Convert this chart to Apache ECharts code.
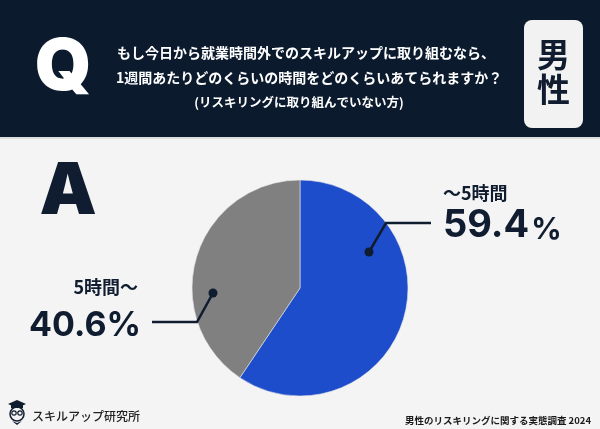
<!DOCTYPE html>
<html>
<head>
<meta charset="utf-8">
<script src="https://cdn.jsdelivr.net/npm/echarts@6/dist/echarts.min.js"></script>
<style>
  html, body { margin: 0; padding: 0; background: #f4f4f4; }
  #chart { width: 600px; height: 429px; }
</style>
</head>
<body>
<div id="chart"></div>
<script>
// 回答カテゴリと割合
var categories = ['〜5時間', '5時間〜'];
var values = [59.4, 40.6];
var colors = ['#1e4dcc', '#808080'];

var questionLines = [
    'もし今日から就業時間外でのスキルアップに取り組むなら、',
    '1週間あたりどのくらいの時間をどのくらいあてられますか？'
];
var questionNote = '(リスキリングに取り組んでいない方)';
var gender = ['男', '性'];
var sourceText = '男性のリスキリングに関する実態調査 2024';
var logoText = 'スキルアップ研究所';

var NAVY = '#0c1a2e';
var INK = '#101c2f';
var JP = '"Noto Sans CJK JP", sans-serif';
var NUM = 'Inter, "Noto Sans CJK JP", sans-serif';

var chart = echarts.init(document.getElementById('chart'));

var pieData = [];
for (var i = 0; i < categories.length; i++) {
    pieData.push({ name: categories[i], value: values[i], itemStyle: { color: colors[i] } });
}

var option = {
    backgroundColor: '#f4f4f4',
    animation: false,
    graphic: [
        // header
        { type: 'rect', shape: { x: 0, y: 0, width: 600, height: 137 }, style: { fill: NAVY }, z: 0 },
        { type: 'rect', shape: { x: 0, y: 137, width: 600, height: 2 }, style: { fill: '#dcdcdc' }, z: 0 },
        { type: 'text', x: 63, y: 68, style: { text: 'Q', font: '900 72px Inter, sans-serif', fill: '#ffffff', align: 'center', verticalAlign: 'middle' }, z: 2 },
        { type: 'text', x: 117, y: 53, style: { text: questionLines[0], font: '700 14px ' + JP, fill: '#ffffff', verticalAlign: 'middle' }, z: 2 },
        { type: 'text', x: 116, y: 78, style: { text: questionLines[1], font: '700 14px ' + JP, fill: '#ffffff', verticalAlign: 'middle' }, z: 2 },
        { type: 'text', x: 299, y: 102, style: { text: questionNote, font: '700 12.5px ' + JP, fill: '#ffffff', align: 'center', verticalAlign: 'middle' }, z: 2 },
        { type: 'rect', shape: { x: 524, y: 20, width: 59, height: 108, r: 8 }, style: { fill: '#f2f2f2' }, z: 1 },
        { type: 'text', x: 553.5, y: 54, style: { text: gender[0], font: '700 33px ' + JP, fill: INK, align: 'center', verticalAlign: 'middle' }, z: 2 },
        { type: 'text', x: 553.5, y: 89, style: { text: gender[1], font: '700 33px ' + JP, fill: INK, align: 'center', verticalAlign: 'middle' }, z: 2 },

        // answer mark
        { type: 'text', x: 68, y: 192, style: { text: 'A', font: '900 72px Inter, sans-serif', fill: INK, align: 'center', verticalAlign: 'middle' }, z: 2 },

        // label lines
        { type: 'polyline', shape: { points: [[369, 252], [386, 223], [431, 223]] }, style: { stroke: INK, lineWidth: 2.5, fill: null }, z: 5 },
        { type: 'circle', shape: { cx: 369, cy: 252, r: 4.5 }, style: { fill: INK }, z: 5 },
        { type: 'polyline', shape: { points: [[213, 293], [197, 322], [152, 322]] }, style: { stroke: INK, lineWidth: 2.5, fill: null }, z: 5 },
        { type: 'circle', shape: { cx: 213, cy: 293, r: 4.5 }, style: { fill: INK }, z: 5 },

        // labels
        { type: 'text', x: 443, y: 193, style: { text: categories[0], font: '700 18px ' + JP, fill: INK, verticalAlign: 'middle' }, z: 5 },
        { type: 'text', x: 443, y: 226, style: {
            text: '{n|' + values[0].toFixed(1) + '}{p|%}',
            rich: {
                n: { font: '700 38px ' + NUM, fill: INK, verticalAlign: 'bottom' },
                p: { font: '700 30px ' + NUM, fill: INK, verticalAlign: 'bottom', padding: [0, 0, 0, 2] }
            },
            fill: INK, verticalAlign: 'middle'
        }, z: 5 },
        { type: 'text', x: 138, y: 287, style: { text: categories[1], font: '700 18px ' + JP, fill: INK, align: 'right', verticalAlign: 'middle' }, z: 5 },
        { type: 'text', x: 141, y: 326, style: { text: values[1].toFixed(1) + '%', font: '700 34px ' + NUM, fill: INK, align: 'right', verticalAlign: 'middle' }, z: 5 },

        // footer logo (owl)
        { type: 'polygon', shape: { points: [[8, 404], [17, 400], [26, 404], [17, 408]] }, style: { fill: INK }, z: 3 },
        { type: 'rect', shape: { x: 11, y: 404, width: 12, height: 4 }, style: { fill: INK }, z: 3 },
        { type: 'circle', shape: { cx: 17, cy: 414, r: 7 }, style: { fill: 'none', stroke: INK, lineWidth: 1.5 }, z: 3 },
        { type: 'circle', shape: { cx: 14, cy: 413, r: 2.2 }, style: { fill: 'none', stroke: INK, lineWidth: 1.2 }, z: 3 },
        { type: 'circle', shape: { cx: 20, cy: 413, r: 2.2 }, style: { fill: 'none', stroke: INK, lineWidth: 1.2 }, z: 3 },
        { type: 'polygon', shape: { points: [[12, 421], [17, 423], [22, 421], [17, 425]] }, style: { fill: INK }, z: 3 },
        { type: 'text', x: 32, y: 416, style: { text: logoText, font: '500 12px ' + JP, fill: '#222222', verticalAlign: 'middle' }, z: 3 },
        { type: 'text', x: 591, y: 420, style: { text: sourceText, font: '700 9.5px ' + JP, fill: '#1a1a1a', align: 'right', verticalAlign: 'middle' }, z: 3 }
    ],
    series: [{
        type: 'pie',
        center: [300, 288],
        radius: 108,
        startAngle: 90,
        clockwise: true,
        silent: true,
        label: { show: false },
        labelLine: { show: false },
        itemStyle: { borderColor: '#e6e6e6', borderWidth: 0.6 },
        data: pieData,
        z: 1
    }]
};

chart.setOption(option);
</script>
</body>
</html>
